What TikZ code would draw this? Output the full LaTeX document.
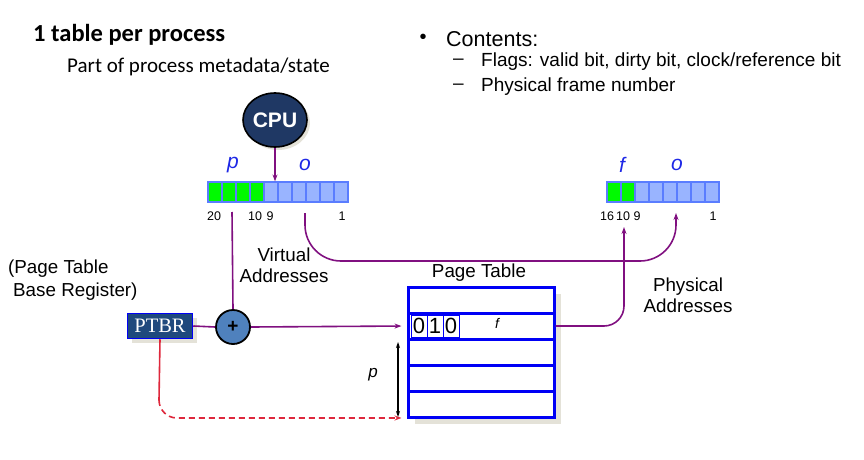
\documentclass[tikz,border=0pt]{standalone}
\usepackage{fontspec}
\setmainfont{Liberation Sans}
\newfontfamily\calfont{Carlito}
\newfontfamily\serfont{Liberation Serif}
\usetikzlibrary{arrows.meta,shadows,shapes.geometric}
\definecolor{linkpurple}{RGB}{128,16,128}
\definecolor{cpunavy}{RGB}{31,56,100}
\definecolor{ptbrnavy}{RGB}{31,73,125}
\definecolor{plusblue}{RGB}{79,129,189}
\definecolor{cellblue}{RGB}{153,180,255}
\definecolor{celledge}{RGB}{90,125,255}
\definecolor{bitgreen}{RGB}{0,250,0}
\definecolor{tabblue}{RGB}{0,0,245}
\definecolor{dashred}{RGB}{222,40,60}
\definecolor{shadowgray}{RGB}{228,226,216}
\definecolor{labelblue}{RGB}{30,40,230}
\tikzset{
  cell/.style={draw=celledge, line width=1.2pt, fill=cellblue, minimum width=14pt, minimum height=20pt, inner sep=0pt},
  gcell/.style={cell, fill=bitgreen},
  bitlbl/.style={font=\itshape\fontsize{21}{21}\selectfont, text=labelblue, inner sep=0pt},
  numlbl/.style={font=\fontsize{12.5}{12.5}\selectfont, inner sep=0pt},
  tabrow/.style={draw=tabblue, line width=3pt, minimum width=146pt, minimum height=26pt, inner sep=0pt},
  tabbit/.style={draw=tabblue, line width=0.8pt, minimum width=16pt, minimum height=22pt, inner sep=0pt, font=\fontsize{22}{22}\selectfont},
  link/.style={draw=linkpurple, line width=1.6pt},
  txt/.style={font=\fontsize{18.8}{21}\selectfont, inner sep=0pt, align=center},
  point/.style={font=\fontsize{19}{19}\selectfont, inner sep=0pt, anchor=west}
}
\begin{document}
\begin{tikzpicture}[x=1pt,y=-1pt]
\useasboundingbox (0,0) rectangle (864,460);
% headings
\node[anchor=west, inner sep=0pt, font=\calfont\bfseries\fontsize{24.5}{24.5}\selectfont] (title) at (33,35) {1 table per process};
\node[anchor=west, inner sep=0pt, font=\calfont\fontsize{21}{21}\selectfont] (sub) at (67,67) {Part of process metadata/state};
\node[inner sep=0pt, font=\fontsize{20}{20}\selectfont] (bul) at (423,39) {\textbullet};
\node[point, font=\fontsize{21.5}{21.5}\selectfont] (cont) at (446,39) {Contents:};
\node[point] (dash1) at (453,62) {--};
\node[point] (flags) at (481,62) {Flags: valid bit, dirty bit, clock/reference bit};
\node[point] (dash2) at (453,87) {--};
\node[point] (pfn) at (481,87) {Physical frame number};
% cpu
\node[ellipse, minimum width=64pt, minimum height=54pt, inner sep=0pt, draw=black, line width=1.6pt, fill=cpunavy,
  drop shadow={shadow xshift=3pt, shadow yshift=-3pt, fill=shadowgray, opacity=1},
  text=white, font=\bfseries\fontsize{21}{21}\selectfont] (cpu) at (275,120) {CPU};
% virtual address
\node[gcell] (va1) at (215,192) {};
\node[gcell] (va2) at (229,192) {};
\node[gcell] (va3) at (243,192) {};
\node[gcell] (va4) at (257,192) {};
\node[cell] (va5) at (271,192) {};
\node[cell] (va6) at (285,192) {};
\node[cell] (va7) at (299,192) {};
\node[cell] (va8) at (313,192) {};
\node[cell] (va9) at (327,192) {};
\node[cell] (va10) at (341,192) {};
\node[bitlbl] (vp) at (233,165) {p};
\node[bitlbl] (vo) at (305,165) {o};
\node[numlbl] (vn20) at (214,216) {20};
\node[numlbl] (vn10) at (255,216) {10};
\node[numlbl] (vn9) at (270,216) {9};
\node[numlbl] (vn1) at (342,216) {1};
% physical address
\node[gcell] (pa1) at (614,192) {};
\node[gcell] (pa2) at (628,192) {};
\node[cell] (pa3) at (642,192) {};
\node[cell] (pa4) at (656,192) {};
\node[cell] (pa5) at (670,192) {};
\node[cell] (pa6) at (684,192) {};
\node[cell] (pa7) at (698,192) {};
\node[cell] (pa8) at (712,192) {};
\node[bitlbl] (pf) at (622,165) {f};
\node[bitlbl] (po) at (677,165) {o};
\node[numlbl] (pn16) at (607,216) {16};
\node[numlbl] (pn10) at (623,216) {10};
\node[numlbl] (pn9) at (637,216) {9};
\node[numlbl] (pn1) at (713,216) {1};
% labels
\node[txt] (virt) at (284,265) {Virtual\\Addresses};
\node[txt] (phys) at (688,295) {Physical\\Addresses};
\node[txt, align=left, anchor=west, font=\fontsize{18.8}{23}\selectfont] (ptbrlbl) at (8,280) {(Page Table\\\hspace{5pt}Base Register)};
\node[txt] (ptlbl) at (479,273) {Page Table};
% ptbr and adder
\node[draw=tabblue, line width=1.5pt, fill=ptbrnavy, minimum width=65pt, minimum height=25pt, inner sep=0pt,
  drop shadow={shadow xshift=4pt, shadow yshift=-4pt, fill=shadowgray, opacity=1},
  text=white, font=\serfont\fontsize{20.5}{20.5}\selectfont] (ptbr) at (160,326) {PTBR};
\node[circle, draw=black, line width=1.8pt, fill=plusblue, minimum size=34pt, inner sep=0pt,
  font=\bfseries\fontsize{19}{19}\selectfont] (plus) at (233,327) {+};
% page table
\node[tabrow, minimum height=130pt, fill=white,
  drop shadow={shadow xshift=7pt, shadow yshift=-7pt, fill=shadowgray, opacity=1}] (ptab) at (481,352) {};
\node[tabrow] (row1) at (481,300) {};
\node[tabrow] (row2) at (481,326) {};
\node[tabrow] (row3) at (481,352) {};
\node[tabrow] (row4) at (481,378) {};
\node[tabrow] (row5) at (481,404) {};
\node[tabbit] (b1) at (419,326) {0};
\node[tabbit] (b2) at (435,326) {1};
\node[tabbit] (b3) at (451,326) {0};
\node[inner sep=0pt, font=\itshape\fontsize{14}{14}\selectfont] (tf) at (497,323) {f};
% connectors
\coordinate (vtick) at (232,212);
\coordinate (otick) at (305,213);
\coordinate (ohit) at (676,213);
\coordinate (fhit) at (624,227);
\coordinate (rbend) at (159,400);
\coordinate (ptop) at (398,342);
\coordinate (pbot) at (398,417);
\draw[link, -{Stealth[length=7pt,width=5pt]}] (cpu.south) -- (cpu.south |- va5.north);
\draw[link] (vtick) -- (plus.north);
\draw[link, rounded corners=36pt, -{Stealth[length=7pt,width=5pt]}] (otick) -- (305,261) -- (676,261) -- (ohit);
\draw[link, rounded corners=20pt, -{Stealth[length=7pt,width=5pt]}] (row2.east) -- (624,326) -- (fhit);
\draw[link] (ptbr.east) -- (plus.west);
\draw[link, shorten >=5pt, -{Stealth[length=7pt,width=5pt]}] (plus.east) -- (row2.west);
\draw[draw=dashred, line width=1.6pt] (ptbr.south) -- (rbend);
\draw[draw=dashred, line width=1.6pt, dash pattern=on 6pt off 4pt, rounded corners=18pt, shorten >=5pt, -{Stealth[length=7pt,width=5pt]}] (rbend) -- (159,418) -- (row5.west |- 0,418);
\draw[line width=1.6pt, {Stealth[length=6pt,width=4pt]}-{Stealth[length=6pt,width=4pt]}] (ptop) -- (pbot);
\node[inner sep=0pt, font=\itshape\fontsize{17}{17}\selectfont] (plbl) at (373,375) {p};
\end{tikzpicture}
\end{document}
